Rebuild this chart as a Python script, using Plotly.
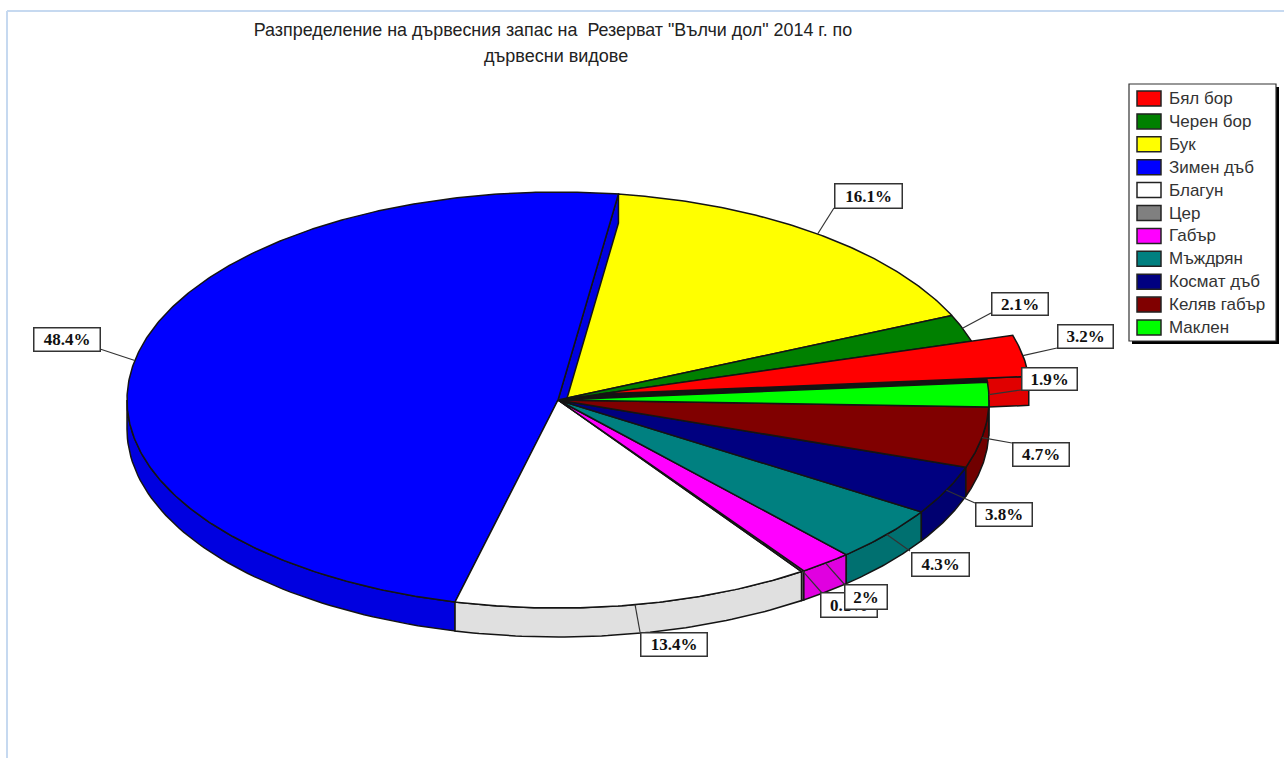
import numpy as np
import plotly.graph_objects as go

# ---- data ----
species = ["Бял бор", "Черен бор", "Бук", "Зимен дъб", "Благун", "Цер", "Габър",
           "Мъждрян", "Космат дъб", "Келяв габър", "Маклен"]
shares = [3.2, 2.1, 16.1, 48.4, 13.4, 0.1, 2, 4.3, 3.8, 4.7, 1.9]
share_labels = ["3.2%", "2.1%", "16.1%", "48.4%", "13.4%", "0.1%", "2%", "4.3%", "3.8%", "4.7%", "1.9%"]

# ---- styles ----
top_colors = ["#ff0000", "#008000", "#ffff00", "#0000ff", "#ffffff", "#808080",
              "#ff00ff", "#008080", "#000080", "#800000", "#00ff00"]
wall_colors = ["#e00000", "#007000", "#e0e000", "#0000e0", "#e0e0e0", "#707070",
               "#e000e0", "#007070", "#000070", "#700000", "#00e000"]
EDGE = "#141414"
CX, CY, RX, RY, DEPTH = 558, 400, 431, 208, 29
START = 4.9
EXPLODE = {0: 0.1}
# label boxes: left, top, right, bottom (same order as species)
boxes = [(1057, 324, 1113, 348), (991, 292, 1048, 315), (834, 183, 902, 208),
         (33, 327, 100, 351), (640, 632, 707, 656), (820, 592, 877, 617),
         (844, 584, 887, 609), (911, 552, 969, 576), (975, 502, 1032, 526),
         (1012, 442, 1069, 466), (1021, 367, 1077, 390)]
# leader end points on the boxes
leader_ends = [(1057, 348), (991, 313), (834, 208), (100, 349), (640, 632), (822, 593),
               (845, 585), (910, 551), (975, 503), (1012, 443), (1021, 390)]
draw_order = [0, 1, 2, 3, 4, 5, 7, 8, 9, 10, 6]


def rim(theta, dx=0.0, dy=0.0):
    t = np.radians(theta)
    return CX + dx + RX * np.cos(t), CY + dy - RY * np.sin(t)


fig = go.Figure()


def poly(xs, ys, fill, name, width=1.5):
    fig.add_trace(go.Scatter(x=list(xs), y=list(ys), mode="lines", fill="toself", fillcolor=fill,
                             line=dict(color=EDGE, width=width), name=name, hoverinfo="name",
                             showlegend=False))


def cut_face(i, theta):
    dx, dy = offsets[i]
    x, y = rim(theta, dx, dy)
    tx, ty = CX + dx, CY + dy
    poly([tx, x, x, tx, tx], [ty, y, y + DEPTH, ty + DEPTH, ty], wall_colors[i], species[i])


# slice angle ranges, running counter-clockwise from START
edges = START + np.concatenate([[0], np.cumsum(shares)]) * 3.6
ranges = list(zip(edges[:-1], edges[1:]))
offsets = []
for i, (a, b) in enumerate(ranges):
    k = EXPLODE.get(i, 0)
    m = np.radians(b)
    offsets.append((k * RX * np.cos(m), -k * RY * np.sin(m)))

# walls: the lower half of the rim is visible
for i, (a, b) in enumerate(ranges):
    dx, dy = offsets[i]
    lo, hi = max(a, 180), min(b, 360)
    if hi > lo:
        th = np.linspace(lo, hi, 60)
        x, y = rim(th, dx, dy)
        poly(np.r_[x, x[::-1], x[0]], np.r_[y, y[::-1] + DEPTH, y[0]], wall_colors[i], species[i])
    if i in EXPLODE:  # cut face of the pulled-out slice
        cut_face(i, a)
        # the dark hole the pulled-out slice leaves behind
        hx, hy = rim(np.linspace(a, b, 12))
        poly(np.r_[CX, hx, CX], np.r_[CY, hy, CY], EDGE, species[i])


def top(i):
    a, b = ranges[i]
    dx, dy = offsets[i]
    th = np.linspace(a, b, max(3, int((b - a) * 2)))
    x, y = rim(th, dx, dy)
    poly(np.r_[CX + dx, x, CX + dx], np.r_[CY + dy, y, CY + dy], top_colors[i], species[i])


# top faces: the big slice's cut face lies over its neighbour, pulled-out slice last
top(2)
cut_face(3, ranges[3][0])
top(3)
for i in [1, 4, 5, 6, 7, 8, 9, 10, 0]:
    top(i)

# leaders
for i, (a, b) in enumerate(ranges):
    dx, dy = offsets[i]
    x, y = rim((a + b) / 2, dx, dy)
    ex, ey = leader_ends[i]
    fig.add_trace(go.Scatter(x=[x, ex], y=[y, ey], mode="lines", line=dict(color="#333333", width=1.2),
                             hoverinfo="skip", showlegend=False))

annotations = []
for i in draw_order:
    l, t, r, b = boxes[i]
    annotations.append(dict(x=(l + r) / 2, y=(t + b) / 2, xref="x", yref="y", text="<b>%s</b>" % share_labels[i],
                            showarrow=False, width=r - l - 2, height=b - t - 2, bgcolor="#ffffff",
                            bordercolor="#333333", borderwidth=1.5, borderpad=0, align="center", valign="middle",
                            xanchor="center", yanchor="middle",
                            font=dict(family="Liberation Serif", size=17, color="#111111")))

# legend
LX0, LY0, LX1, LY1 = 1129, 84, 1276, 341
shapes = [
    dict(type="line", x0=7, y0=11, x1=7, y1=758, line=dict(color="#c6d9f0", width=2)),
    dict(type="line", x0=7, y0=11, x1=1284, y1=11, line=dict(color="#c6d9f0", width=2)),
    dict(type="rect", x0=LX0 + 3, y0=LY0 + 3, x1=LX1 + 3, y1=LY1 + 3, fillcolor="#000000", line=dict(width=0)),
    dict(type="rect", x0=LX0, y0=LY0, x1=LX1, y1=LY1, fillcolor="#ffffff", line=dict(color="#333333", width=1.2)),
]
for i, name in enumerate(species):
    yc = 98.5 + i * 22.9
    shapes.append(dict(type="rect", x0=1137, x1=1161, y0=yc - 7.5, y1=yc + 7.5, fillcolor=top_colors[i],
                       line=dict(color="#222222", width=1.5)))
    annotations.append(dict(x=1167, y=yc, xref="x", yref="y", text=name, showarrow=False, xanchor="left",
                            yanchor="middle", font=dict(family="Liberation Sans", size=17, color="#333333")))

annotations.append(dict(x=556, y=55.5, xref="x", yref="y", text="дървесни видове", showarrow=False,
                        font=dict(family="Liberation Sans", size=18, color="#222222")))

fig.update_layout(
    width=1284, height=758, margin=dict(l=0, r=0, t=0, b=0),
    paper_bgcolor="#ffffff", plot_bgcolor="#ffffff", showlegend=False,
    title=dict(text='Разпределение на дървесния запас на  Резерват "Вълчи дол" 2014 г. по',
               x=553 / 1284, xanchor="center", y=1 - 30 / 758, yanchor="middle",
               font=dict(family="Liberation Sans", size=17.9, color="#222222")),
    xaxis=dict(range=[0, 1284], visible=False, fixedrange=True),
    yaxis=dict(range=[758, 0], visible=False, fixedrange=True),
    shapes=shapes, annotations=annotations,
)
fig.write_html("out.html", post_script="document.body.style.margin='0';", config=dict(displayModeBar=False))
